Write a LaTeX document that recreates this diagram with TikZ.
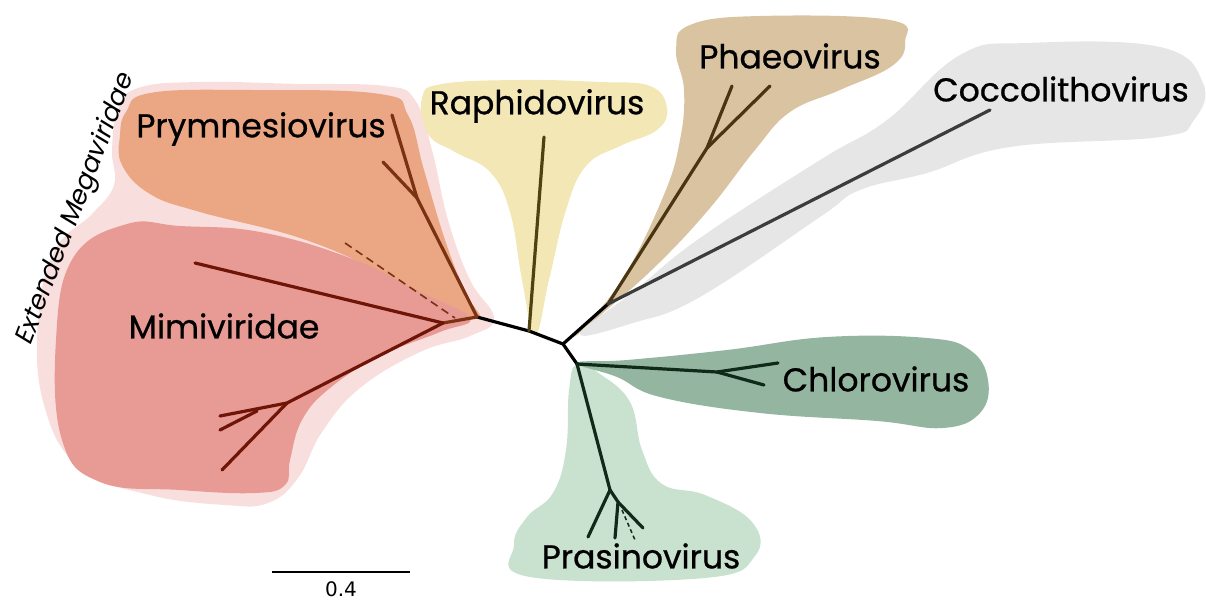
\documentclass[tikz,border=0pt]{standalone}
\usepackage{fontspec}
\setmainfont{Poppins}
\newfontfamily\labfont[FakeBold=0.7]{Poppins}
\newfontfamily\barfont{DejaVu Sans}
\newfontfamily\slfont[FakeSlant=0.18]{Poppins}
\definecolor{cpink}{HTML}{F9DEDE}
\definecolor{corange}{HTML}{EBA683}
\definecolor{cmimi}{HTML}{E89A94}
\definecolor{cyellow}{HTML}{F3E7B6}
\definecolor{ctan}{HTML}{D9C3A0}
\definecolor{cgray}{HTML}{E6E6E6}
\definecolor{cchloro}{HTML}{94B59F}
\definecolor{cprasino}{HTML}{C8E2CF}
\definecolor{bmimi}{HTML}{6E1508}
\definecolor{bprym}{HTML}{7A3312}
\definecolor{braph}{HTML}{4F4212}
\definecolor{bphaeo}{HTML}{4A3512}
\definecolor{bcocco}{HTML}{3C3C3C}
\definecolor{bgreen}{HTML}{0F2A18}
\begin{document}
\begin{tikzpicture}[x=1pt,y=-1pt,
  blob/.style={smooth cycle,tension=0.7},
  br/.style={line width=3.2pt,line cap=round,line join=round},
  lab/.style={font=\labfont\fontsize{33}{38}\selectfont,inner sep=0pt}]
\useasboundingbox (0,0) rectangle (1206,601);
% ---- clade shading ----
\fill[cpink] plot[blob] coordinates {(118,110) (138,88) (200,82) (300,84) (385,86) (415,100) (432,150) (448,220) (470,280) (494,318) (470,336) (420,352) (360,388) (322,432) (298,478) (268,503) (225,505) (150,495) (80,468) (44,405) (38,320) (55,250) (92,214) (114,185) (112,150)};
\fill[corange] plot[blob] coordinates {(126,112) (150,93) (250,90) (380,94) (408,115) (424,170) (445,240) (465,292) (479,318) (440,306) (380,272) (300,238) (200,212) (150,194) (122,165) (120,135)};
\fill[cmimi] plot[blob] coordinates {(127,224) (180,226) (260,232) (350,258) (420,292) (470,318) (440,332) (380,356) (330,388) (302,420) (290,460) (285,485) (255,493) (180,490) (100,482) (62,440) (56,340) (73,258)};
\fill[cyellow] plot[blob] coordinates {(422,98) (442,84) (520,80) (600,82) (650,86) (667,108) (657,130) (620,146) (586,166) (566,210) (549,280) (535,335) (522,280) (510,212) (490,172) (455,152) (428,134)};
\fill[ctan] plot[blob] coordinates {(676,50) (690,25) (760,16) (890,20) (905,42) (892,66) (840,90) (790,112) (755,150) (710,208) (660,262) (610,307) (574,336) (620,283) (663,197) (680,140) (684,90)};
\fill[cgray] plot[blob] coordinates {(580,334) (633,292) (700,238) (820,160) (887,120) (960,55) (1027,43) (1160,47) (1203,83) (1194,120) (1160,137) (1010,147) (927,173) (860,190) (820,217) (700,297) (633,323)};
\fill[cprasino] plot[blob] coordinates {(577,364) (600,374) (630,402) (642,450) (662,484) (705,495) (752,522) (755,556) (705,578) (530,577) (514,545) (527,517) (553,493) (566,450) (569,390)};
\fill[cchloro] plot[blob] coordinates {(577,363) (627,360) (727,350) (827,337) (927,338) (970,350) (988,380) (980,413) (943,428) (877,421) (760,413) (660,397) (617,377)};
% ---- tree nodes ----
\coordinate (m0) at (443,323);
\coordinate (pm) at (477,317);
\coordinate (r1) at (529,331);
\coordinate (r2) at (563,344);
\coordinate (r3) at (577,364);
\coordinate (raph) at (544,137);
\coordinate (pc) at (608,304);
\coordinate (ph) at (707,148);
\coordinate (ph1) at (732,86);
\coordinate (ph2) at (770,86);
\coordinate (cocco) at (990,110);
\coordinate (ch) at (717,372);
\coordinate (ch1) at (778,363);
\coordinate (ch2) at (764,385);
\coordinate (pr) at (610,490);
\coordinate (pr1) at (588,537);
\coordinate (pr2) at (618,502);
\coordinate (pr3) at (615,538);
\coordinate (pr4) at (643,528);
\coordinate (pr5d) at (622,510);
\coordinate (pr6d) at (635,540);
\coordinate (py) at (417,198);
\coordinate (py1) at (392,115);
\coordinate (py2) at (383,162);
\coordinate (pyd) at (345,243);
\coordinate (pyd0) at (455,318);
\coordinate (mi1) at (195,263);
\coordinate (mi) at (287,403);
\coordinate (mis) at (257,411);
\coordinate (mi2) at (220,416);
\coordinate (mi3) at (220,430);
\coordinate (mi4) at (222,470);
% ---- branches ----
\draw[br,black] (pm) -- (r1) -- (r2) -- (r3);
\draw[br,bprym] (m0) -- (pm);
\draw[br,bprym] (pm) -- (py) -- (py1);
\draw[br,bprym] (py) -- (py2);
\draw[bprym,line width=1.6pt,dash pattern=on 8pt off 5pt] (pyd) -- (pyd0);
\draw[br,bmimi] (m0) -- (mi1);
\draw[br,bmimi] (m0) -- (mi) -- (mi2);
\draw[br,bmimi] (mis) -- (mi3);
\draw[br,bmimi] (mi) -- (mi4);
\draw[br,braph] (r1) -- (raph);
\draw[br,black] (r2) -- (pc);
\draw[br,bphaeo] (pc) -- (ph) -- (ph1);
\draw[br,bphaeo] (ph) -- (ph2);
\draw[br,bcocco] (pc) -- (cocco);
\draw[br,bgreen] (r3) -- (ch) -- (ch1);
\draw[br,bgreen] (ch) -- (ch2);
\draw[br,bgreen] (r3) -- (pr) -- (pr1);
\draw[br,bgreen] (pr) -- (pr2) -- (pr3);
\draw[br,bgreen] (pr2) -- (pr4);
\draw[bgreen,line width=1.5pt,dash pattern=on 4pt off 3pt] (pr5d) -- (pr6d);
% ---- labels ----
\node[lab] (lprym) at (261,129) {Prymnesiovirus};
\node[lab] (lraph) at (537,106) {Raphidovirus};
\node[lab] (lphaeo) at (790,56) {Phaeovirus};
\node[lab] (lcocco) at (1061,89) {Coccolithovirus};
\node[lab] (lmimi) at (224,326) {Mimiviridae};
\node[lab] (lchloro) at (876,379) {Chlorovirus};
\node[lab] (lprasino) at (641,556) {Prasinovirus};
\node[inner sep=0pt,rotate=69,font=\slfont\fontsize{26}{30}\selectfont] (lext) at (76,210) {Extended Megaviridae};
% ---- scale bar ----
\coordinate (sb1) at (272,572);
\coordinate (sb2) at (410,572);
\draw[line width=2.2pt] (sb1) -- (sb2);
\node[font=\barfont\fontsize{20}{23}\selectfont,inner sep=0pt] (sbl) at (341,589) {0.4};
\end{tikzpicture}
\end{document}
